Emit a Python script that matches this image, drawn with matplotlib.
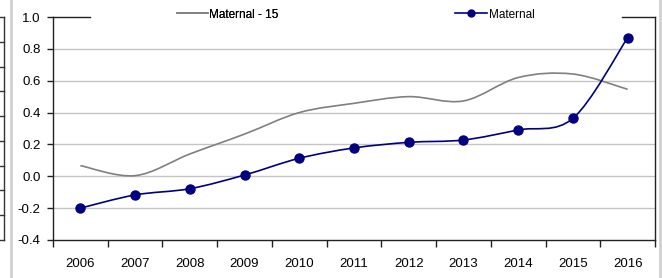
import numpy as np
import matplotlib
matplotlib.use("Agg")
import matplotlib.pyplot as plt
from matplotlib.path import Path
from matplotlib.patches import PathPatch
from matplotlib.lines import Line2D

years = ["2006", "2007", "2008", "2009", "2010", "2011", "2012", "2013", "2014", "2015", "2016"]
maternal = [-0.20, -0.117, -0.078, 0.008, 0.113, 0.178, 0.213, 0.228, 0.291, 0.364, 0.870]
maternal_15 = [0.067, 0.004, 0.14, 0.265, 0.40, 0.458, 0.50, 0.473, 0.62, 0.642, 0.546]
y_ticks = [-0.4, -0.2, 0.0, 0.2, 0.4, 0.6, 0.8, 1.0]

plt.rcParams['font.family'] = ['Liberation Sans', 'DejaVu Sans']

W, H = 662, 278
fig = plt.figure(figsize=(W / 100, H / 100), dpi=100)
ax = fig.add_axes([53 / W, 1 - 240 / H, (655 - 53) / W, (240 - 17) / H])

x = np.arange(len(years))


def smooth_path(xs, ys):
    xs = np.asarray(xs, float)
    ys = np.asarray(ys, float)
    n = len(xs)
    verts = [(xs[0], ys[0])]
    codes = [Path.MOVETO]
    for i in range(n - 1):
        p0 = np.array([xs[max(i - 1, 0)], ys[max(i - 1, 0)]])
        p1 = np.array([xs[i], ys[i]])
        p2 = np.array([xs[i + 1], ys[i + 1]])
        p3 = np.array([xs[min(i + 2, n - 1)], ys[min(i + 2, n - 1)]])
        c1 = p1 + (p2 - p0) / 6.0
        c2 = p2 - (p3 - p1) / 6.0
        verts += [tuple(c1), tuple(c2), tuple(p2)]
        codes += [Path.CURVE4] * 3
    return Path(verts, codes)


gray = "#808080"
navy = "#000080"

ax.add_patch(PathPatch(smooth_path(x, maternal_15), facecolor="none",
                       edgecolor=gray, lw=1.2, zorder=3))
ax.add_patch(PathPatch(smooth_path(x, maternal), facecolor="none",
                       edgecolor=navy, lw=1.2, zorder=4))
ax.plot(x, maternal, linestyle="none", marker="o", color=navy,
        markersize=6.5, zorder=5)

ax.set_xlim(-0.5, len(years) - 0.5)
ax.set_ylim(-0.4, 1.0)
ax.set_yticks(y_ticks)
ax.set_yticklabels([f"{v:.1f}" for v in y_ticks])
ax.set_xticks(np.arange(-0.5, len(years) + 0.5, 1.0))
ax.set_xticklabels([])
ax.set_xticks(x, minor=True)
ax.set_xticklabels(years, minor=True)
ax.tick_params(axis="x", which="major", direction="out", length=5, width=1, color="#222222")
ax.tick_params(axis="x", which="minor", length=0, pad=13, labelsize=9.5)
ax.tick_params(axis="y", direction="out", length=4, width=1, pad=5, labelsize=9.5, color="#222222")

for v in y_ticks[1:-1]:
    ax.axhline(v, color="#c4c4c4", lw=1, zorder=1)

for s in ["left", "bottom", "right"]:
    ax.spines[s].set_color("#222222")
    ax.spines[s].set_linewidth(1)
ax.spines["top"].set_visible(False)
# visible pieces of the top frame that the legend band does not hide
ax.plot([0, (90 - 53) / (655 - 53)], [1, 1], color="#222222", lw=1,
        transform=ax.transAxes, clip_on=False)
ax.plot([(622 - 53) / (655 - 53), 1], [1, 1], color="#222222", lw=1,
        transform=ax.transAxes, clip_on=False)

h1 = Line2D([], [], color=gray, lw=1.2)
h2 = Line2D([], [], color=navy, lw=1.2, marker="o", markersize=5)
leg1 = fig.legend([h1], ["Maternal - 15"], loc="center left",
                  bbox_to_anchor=(177 / W, 1 - 14.5 / H), frameon=False,
                  fontsize=8.5, handlelength=2.6, handletextpad=0.15,
                  borderpad=0, borderaxespad=0)
leg2 = fig.legend([h2], ["Maternal"], loc="center left",
                  bbox_to_anchor=(455 / W, 1 - 14.5 / H), frameon=False,
                  fontsize=8.5, handlelength=2.7, handletextpad=0.15,
                  borderpad=0, borderaxespad=0)
fig.add_artist(leg1)

# fragment of the neighbouring chart on the left edge and panel separators
fig.add_artist(Line2D([4 / W, 4 / W], [1 - 17 / H, 1 - 240 / H], color="#333333", lw=1))
for k in range(10):
    yy = 1 - (17 + k * 223 / 9) / H
    fig.add_artist(Line2D([0, 4 / W], [yy, yy], color="#333333", lw=1))
fig.add_artist(Line2D([11 / W, 11 / W], [0, 1], color="#d0d0d0", lw=2))
fig.add_artist(Line2D([660 / W, 660 / W], [0, 1], color="#d0d0d0", lw=2))

fig.savefig("out.png", dpi=100)
